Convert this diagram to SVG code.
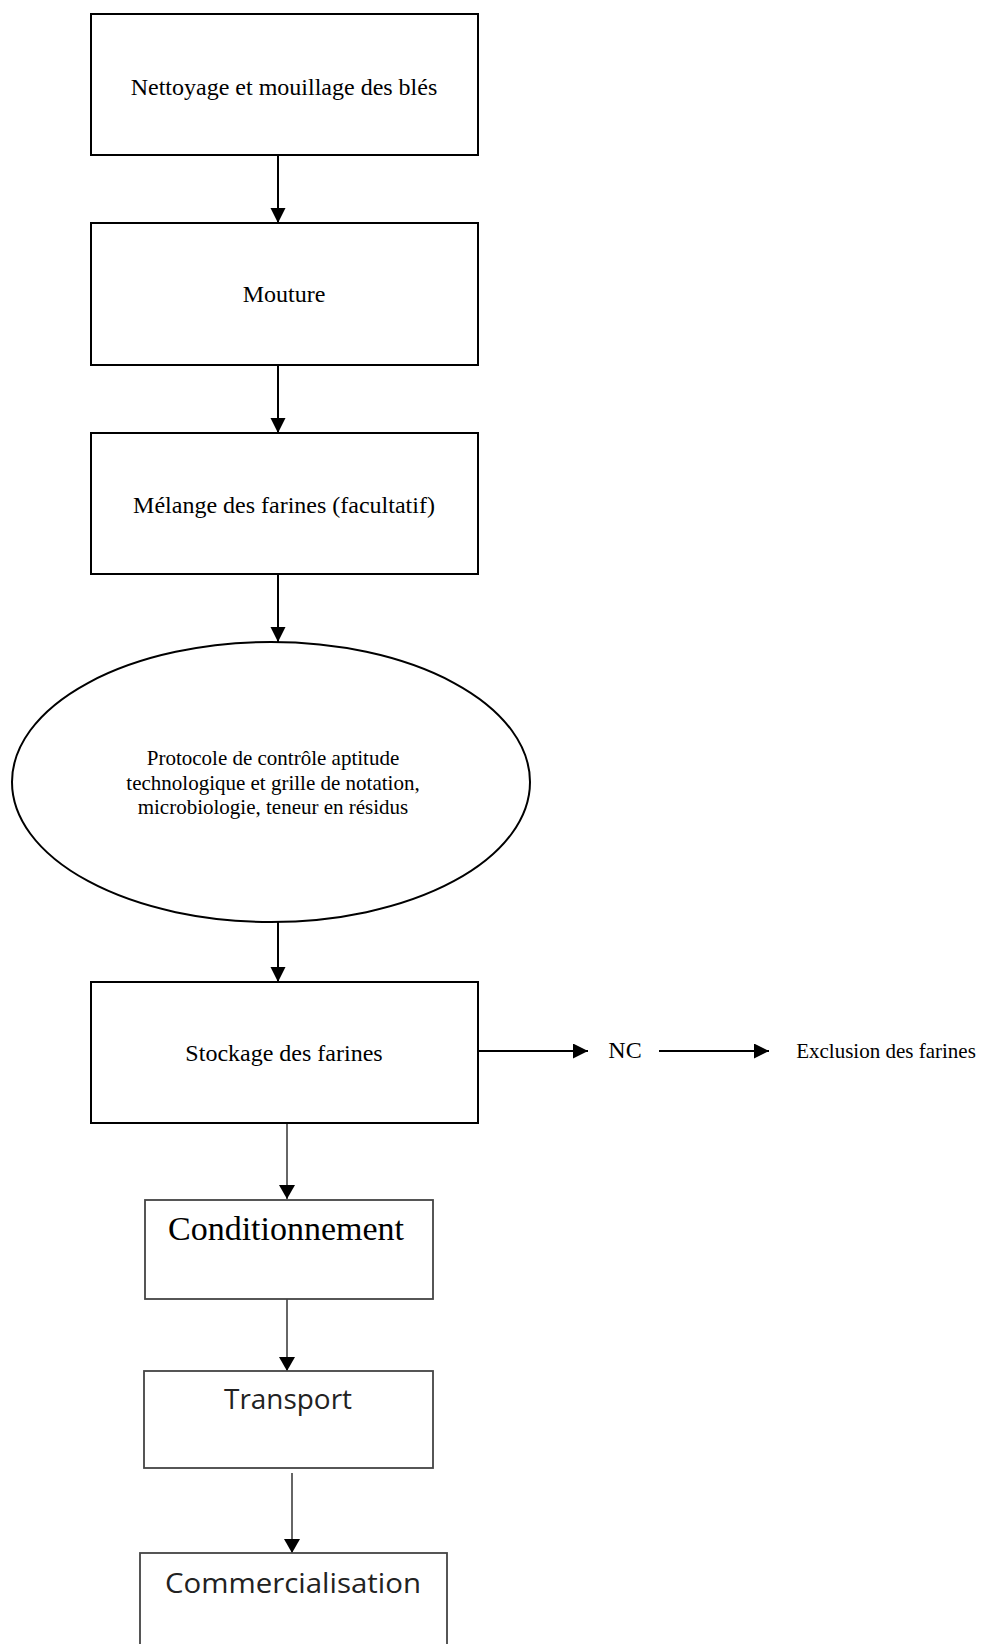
<svg xmlns="http://www.w3.org/2000/svg" width="982" height="1644" viewBox="0 0 982 1644">
<style>
.box{fill:#fff;stroke:#000;stroke-width:2}
.box2{fill:#fff;stroke:#444;stroke-width:1.8}
.t{font-family:"Liberation Serif","Times New Roman",serif;fill:#000;text-anchor:middle}
.s{font-family:"Open Sans","Noto Sans",sans-serif;fill:#222;text-anchor:middle}
.c{fill:none;stroke:#000;stroke-width:2}
.c2{fill:none;stroke:#333;stroke-width:1.5}
</style>
<defs>
<marker id="ah" markerUnits="userSpaceOnUse" markerWidth="16" markerHeight="16" refX="15" refY="7.5" orient="auto">
<path d="M0,0 L15,7.5 L0,15 z" fill="#000"/>
</marker>
<marker id="ah2" markerUnits="userSpaceOnUse" markerWidth="16" markerHeight="17" refX="14" refY="8" orient="auto">
<path d="M0,0 L14,8 L0,16 z" fill="#000"/>
</marker>
</defs>
<rect width="982" height="1644" fill="#fff"/>
<g id="connectors">
<line class="c" x1="278" y1="155" x2="278" y2="223" marker-end="url(#ah)"/>
<line class="c" x1="278" y1="365" x2="278" y2="433" marker-end="url(#ah)"/>
<line class="c" x1="278" y1="574" x2="278" y2="642" marker-end="url(#ah)"/>
<line class="c" x1="278" y1="922" x2="278" y2="982" marker-end="url(#ah)"/>
<line class="c" x1="478" y1="1051" x2="588" y2="1051" marker-end="url(#ah)"/>
<line class="c" x1="659" y1="1051" x2="769" y2="1051" marker-end="url(#ah)"/>
<line class="c2" x1="287" y1="1124" x2="287" y2="1199" marker-end="url(#ah2)"/>
<line class="c2" x1="287" y1="1299" x2="287" y2="1371" marker-end="url(#ah2)"/>
<line class="c2" x1="292" y1="1473" x2="292" y2="1553" marker-end="url(#ah2)"/>
</g>
<g id="n1">
<rect class="box" x="91" y="14" width="387" height="141"/>
<text class="t" x="284" y="95" font-size="24">Nettoyage et mouillage des blés</text>
</g>
<g id="n2">
<rect class="box" x="91" y="223" width="387" height="142"/>
<text class="t" x="284" y="302" font-size="24">Mouture</text>
</g>
<g id="n3">
<rect class="box" x="91" y="433" width="387" height="141"/>
<text class="t" x="284" y="513" font-size="24">Mélange des farines (facultatif)</text>
</g>
<g id="n4">
<ellipse cx="271" cy="782" rx="259" ry="140" fill="#fff" stroke="#000" stroke-width="2"/>
<text class="t" x="273" y="765" font-size="21">Protocole de contrôle aptitude</text>
<text class="t" x="273" y="790" font-size="21">technologique et grille de notation,</text>
<text class="t" x="273" y="814" font-size="21">microbiologie, teneur en résidus</text>
</g>
<g id="n5">
<rect class="box" x="91" y="982" width="387" height="141"/>
<text class="t" x="284" y="1061" font-size="24">Stockage des farines</text>
</g>
<g id="n6">
<text class="t" x="625" y="1058" font-size="24">NC</text>
</g>
<g id="n7">
<text class="t" x="886" y="1058" font-size="21">Exclusion des farines</text>
</g>
<g id="n8">
<rect class="box2" x="145" y="1200" width="288" height="99"/>
<text class="t" x="286" y="1240" font-size="34" fill="#111">Conditionnement</text>
</g>
<g id="n9">
<rect class="box2" x="144" y="1371" width="289" height="97"/>
<text class="s" x="288" y="1409" font-size="28" textLength="128" lengthAdjust="spacingAndGlyphs">Transport</text>
</g>
<g id="n10">
<rect class="box2" x="140" y="1553" width="307" height="100"/>
<text class="s" x="293" y="1593" font-size="28" textLength="256" lengthAdjust="spacingAndGlyphs">Commercialisation</text>
</g>
</svg>
